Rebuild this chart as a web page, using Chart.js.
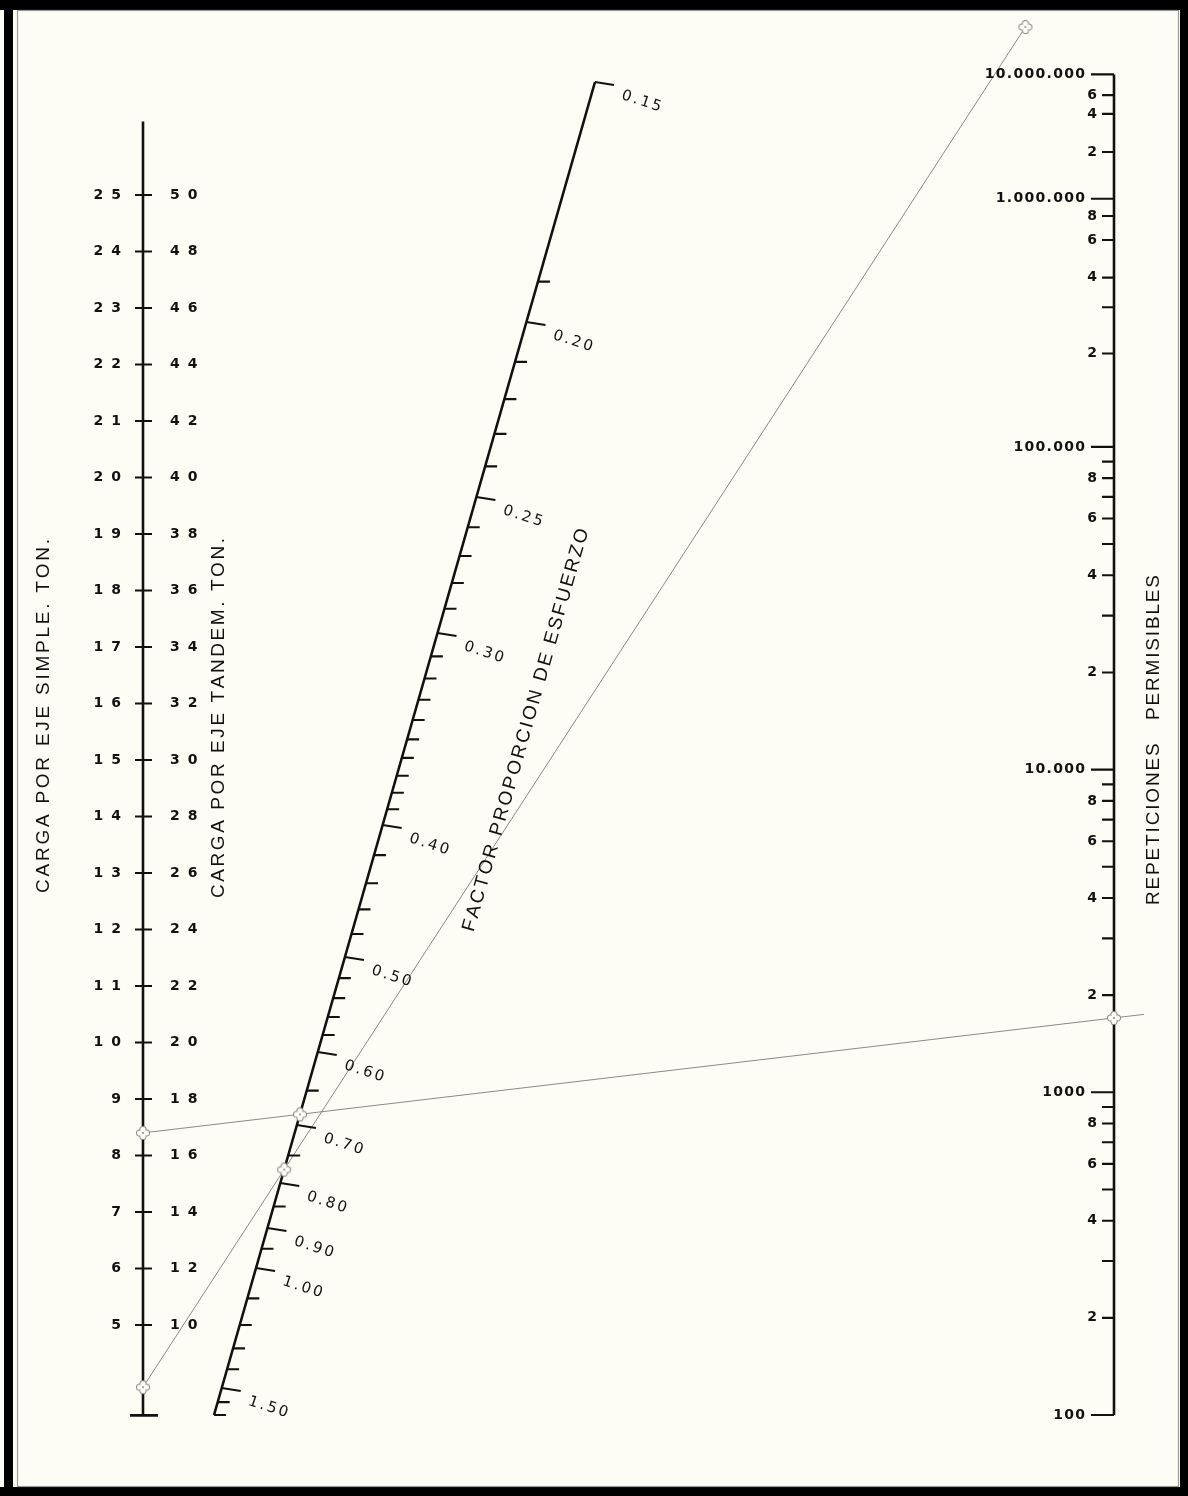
<!DOCTYPE html>
<html>
<head>
<meta charset="utf-8">
<title>Nomograma - repeticiones permisibles</title>
<script src="https://cdn.jsdelivr.net/npm/chart.js@4.4.1/dist/chart.umd.min.js"></script>
<style>
  html, body { margin: 0; padding: 0; background: #fefdf5; }
  #wrap { width: 1188px; height: 1496px; }
</style>
</head>
<body>
<div id="wrap"><canvas id="nomo" width="1188" height="1496"></canvas></div>
<script>
const singleAxleLoads = [5, 6, 7, 8, 9, 10, 11, 12, 13, 14, 15, 16, 17, 18, 19, 20, 21, 22, 23, 24, 25];
const tandemAxleLoads = [10, 12, 14, 16, 18, 20, 22, 24, 26, 28, 30, 32, 34, 36, 38, 40, 42, 44, 46, 48, 50];

const stressRatioTicks = [
  0.15, 0.19, 0.20, 0.21, 0.22, 0.23, 0.24, 0.25, 0.26, 0.27, 0.28, 0.29,
  0.30, 0.31, 0.32, 0.33, 0.34, 0.35, 0.36, 0.37, 0.38, 0.39,
  0.40, 0.42, 0.44, 0.46, 0.48, 0.50, 0.52, 0.54, 0.56, 0.58,
  0.60, 0.65, 0.70, 0.75, 0.80, 0.85, 0.90, 0.95, 1.00,
  1.10, 1.20, 1.30, 1.40, 1.50, 1.60, 1.70
];
const stressRatioLabels = ['0.15', '0.20', '0.25', '0.30', '0.40', '0.50', '0.60', '0.70', '0.80', '0.90', '1.00', '1.50'];

const repetitionDecades = [100, 1000, 10000, 100000, 1000000, 10000000];
const repetitionDecadeLabels = ['100', '1000', '10.000', '100.000', '1.000.000', '10.000.000'];
const repetitionMinorTicks = [
  200, 300, 400, 500, 600, 700, 800, 900,
  2000, 3000, 4000, 5000, 6000, 7000, 8000, 9000,
  20000, 30000, 40000, 50000, 60000, 70000, 80000, 90000,
  200000, 300000, 400000, 600000, 800000,
  2000000, 4000000, 6000000
];

// worked example drawn on the chart
const exampleLoads = [8.4, 3.9];       // single axle, ton
const exampleStressRatio = 0.775;
const exampleRepetitions = 1700;

// ---- layout of the three scales (drawing units = px of the sheet) ----
const W = 1188, H = 1496;
const loadAxis = { x: 143, y25: 195, pxPerTon: 56.5, min: 3.4, max: 26.3 };
const srAxis = { x0: 214, y0: 1415, x1: 595, y1: 82 };
// stress ratio -> fraction along the slanted scale (0 = bottom end)
const srKnots = [
  [1.70, 0], [1.50, 0.0203], [1.00, 0.1103], [0.90, 0.1403], [0.80, 0.1740],
  [0.70, 0.2176], [0.60, 0.2723], [0.50, 0.3436], [0.40, 0.4426], [0.30, 0.5866],
  [0.25, 0.6887], [0.20, 0.8200], [0.15, 1]
];
const repAxis = { x: 1114, y100: 1415, decadePx: 322.7 };

const INK = '#111';
const GUIDE = '#8a8a8a';

function loadPt(v) {
  return { x: loadAxis.x, y: loadAxis.y25 + (25 - v) * loadAxis.pxPerTon };
}

// the stress ratio scale is close to 1/sqrt(SR); interpolate between the printed values
function srFrac(v) {
  const u = 1 / Math.sqrt(v);
  for (let i = 0; i < srKnots.length - 1; i++) {
    const ua = 1 / Math.sqrt(srKnots[i][0]), ub = 1 / Math.sqrt(srKnots[i + 1][0]);
    if (u <= ub || i === srKnots.length - 2) {
      return srKnots[i][1] + (u - ua) / (ub - ua) * (srKnots[i + 1][1] - srKnots[i][1]);
    }
  }
}
function srPt(v) {
  const t = srFrac(v);
  return { x: srAxis.x0 + t * (srAxis.x1 - srAxis.x0), y: srAxis.y0 + t * (srAxis.y1 - srAxis.y0) };
}

// repetitions: logarithmic up to 100.000, then compressed (N^-0.3) above
function repPt(n) {
  let u = Math.log10(n);
  if (n > 1e5) u = 5 + (Math.pow(1e5, -0.3) - Math.pow(n, -0.3)) * 48.75;
  return { x: repAxis.x, y: repAxis.y100 - (u - 2) * repAxis.decadePx };
}

function lerp(a, b, t) { return { x: a.x + (b.x - a.x) * t, y: a.y + (b.y - a.y) * t }; }
function cross(p1, p2, p3, p4) {
  const d = (p1.x - p2.x) * (p3.y - p4.y) - (p1.y - p2.y) * (p3.x - p4.x);
  const a = p1.x * p2.y - p1.y * p2.x, b = p3.x * p4.y - p3.y * p4.x;
  return { x: (a * (p3.x - p4.x) - (p1.x - p2.x) * b) / d, y: (a * (p3.y - p4.y) - (p1.y - p2.y) * b) / d };
}
const GAP = { x: 0, y: null };

// ---- build the segments ----
const axisLines = [];
axisLines.push(loadPt(loadAxis.min), loadPt(loadAxis.max), GAP);
const lb = loadPt(loadAxis.min);
axisLines.push({ x: lb.x - 13, y: lb.y }, { x: lb.x + 15, y: lb.y }, GAP);
axisLines.push(srPt(1.70), srPt(0.15), GAP);
axisLines.push(repPt(100), repPt(1e7), GAP);

const tickMarks = [];
singleAxleLoads.forEach(v => {
  const p = loadPt(v);
  tickMarks.push({ x: p.x - 8, y: p.y }, { x: p.x + 9, y: p.y }, GAP);
});
stressRatioTicks.forEach(v => {
  const p = srPt(v);
  const major = stressRatioLabels.includes(v.toFixed(2));
  tickMarks.push(p, major ? { x: p.x + 19, y: p.y + 3 } : { x: p.x + 12, y: p.y }, GAP);
});
repetitionDecades.forEach(n => {
  const p = repPt(n);
  tickMarks.push({ x: p.x - 23, y: p.y }, p, GAP);
});
repetitionMinorTicks.forEach(n => {
  const p = repPt(n);
  tickMarks.push({ x: p.x - 12, y: p.y }, p, GAP);
});

// example lines
const aLeft = loadPt(exampleLoads[0]);
const aRight = repPt(exampleRepetitions);
const aMid = cross(aLeft, aRight, srPt(1.7), srPt(0.15));
const bLeft = loadPt(exampleLoads[1]);
const bMid = srPt(exampleStressRatio);
const bEnd = lerp(bLeft, bMid, (bLeft.y - 27) / (bLeft.y - bMid.y));
const guideLines = [aLeft, lerp(aLeft, aRight, 1.031), GAP, bLeft, bEnd];
const guideMarks = [aLeft, aMid, aRight, bLeft, bMid, bEnd];

function makeMarker() {
  const c = document.createElement('canvas');
  c.width = 16; c.height = 16;
  const g = c.getContext('2d');
  const lobes = [[8, 4.6], [8, 11.4], [4.6, 8], [11.4, 8]];
  g.fillStyle = GUIDE;
  lobes.forEach(([x, y]) => { g.beginPath(); g.arc(x, y, 3.6, 0, Math.PI * 2); g.fill(); });
  g.fillStyle = '#fefdf5';
  lobes.forEach(([x, y]) => { g.beginPath(); g.arc(x, y, 2.6, 0, Math.PI * 2); g.fill(); });
  return c;
}

// ---- text helpers ----
function drawSpaced(ctx, text, x, y, spacing, align) {
  const chars = [...text];
  const widths = chars.map(c => ctx.measureText(c).width);
  const total = widths.reduce((a, b) => a + b, 0) + spacing * (chars.length - 1);
  let cx = align === 'right' ? x - total : align === 'center' ? x - total / 2 : x;
  ctx.textAlign = 'left';
  chars.forEach((c, i) => { ctx.fillText(c, cx, y); cx += widths[i] + spacing; });
}
function drawFitted(ctx, text, cx, cy, angle, length) {
  const chars = [...text];
  const sum = chars.reduce((a, c) => a + ctx.measureText(c).width, 0);
  ctx.save();
  ctx.translate(cx, cy);
  ctx.rotate(angle);
  drawSpaced(ctx, text, 0, 0, (length - sum) / (chars.length - 1), 'center');
  ctx.restore();
}

const sheetPlugin = {
  id: 'sheet',
  beforeDraw(chart) {
    const ctx = chart.ctx;
    ctx.save();
    ctx.fillStyle = '#fefdf5';
    ctx.fillRect(0, 0, W, H);
    ctx.fillStyle = '#000';
    ctx.fillRect(0, 0, W, 10);
    ctx.fillRect(4, 0, 9, H);
    ctx.fillRect(1180, 0, 8, H);
    ctx.fillRect(0, 1487, W, 9);
    ctx.strokeStyle = '#9a9a9a';
    ctx.lineWidth = 1.2;
    ctx.strokeRect(17.5, 10.5, 1161, 1476);
    ctx.restore();
  },
  afterDatasetsDraw(chart) {
    const { ctx, scales: { x, y } } = chart;
    const px = p => ({ x: x.getPixelForValue(p.x), y: y.getPixelForValue(p.y) });
    ctx.save();
    ctx.fillStyle = INK;
    ctx.textBaseline = 'middle';

    // load scale labels
    ctx.font = 'bold 14px "DejaVu Sans"';
    singleAxleLoads.forEach(v => {
      const p = px(loadPt(v));
      drawSpaced(ctx, String(v), p.x - 22, p.y, 8, 'right');
    });
    tandemAxleLoads.forEach((v, i) => {
      const p = px(loadPt(singleAxleLoads[i]));
      drawSpaced(ctx, String(v), p.x + 27, p.y, 8, 'left');
    });

    // stress ratio labels
    ctx.font = '15px "DejaVu Sans"';
    stressRatioLabels.forEach(s => {
      const p = px(srPt(parseFloat(s)));
      ctx.save();
      ctx.translate(p.x + 27, p.y + 13);
      ctx.rotate(18 * Math.PI / 180);
      drawSpaced(ctx, s, 0, 0, 2.5, 'left');
      ctx.restore();
    });

    // repetition labels
    ctx.font = 'bold 14px "DejaVu Sans"';
    repetitionDecades.forEach((n, i) => {
      const p = px(repPt(n));
      drawSpaced(ctx, repetitionDecadeLabels[i], p.x - 29, p.y, 1.3, 'right');
    });
    repetitionMinorTicks.forEach(n => {
      const m = Math.round(n / Math.pow(10, Math.floor(Math.log10(n))));
      if (m % 2) return;
      const p = px(repPt(n));
      drawSpaced(ctx, String(m), p.x - 17, p.y, 0, 'right');
    });

    // scale titles
    ctx.font = '19px "Liberation Sans"';
    drawFitted(ctx, 'CARGA POR EJE SIMPLE. TON.', 44, 716, -Math.PI / 2, 354);
    drawFitted(ctx, 'CARGA POR EJE TANDEM. TON.', 219, 718, -Math.PI / 2, 360);
    drawFitted(ctx, 'REPETICIONES   PERMISIBLES', 1154, 740, -Math.PI / 2, 330);
    const ang = Math.atan2(srAxis.y1 - srAxis.y0, srAxis.x1 - srAxis.x0);
    drawFitted(ctx, 'FACTOR PROPORCION DE ESFUERZO', 526, 730, ang, 418);
    ctx.restore();
  }
};

new Chart(document.getElementById('nomo'), {
  type: 'scatter',
  data: {
    datasets: [
      { data: axisLines, showLine: true, borderColor: INK, borderWidth: 2.6, pointRadius: 0, order: 1 },
      { data: tickMarks, showLine: true, borderColor: INK, borderWidth: 2.1, pointRadius: 0, order: 2 },
      { data: guideLines, showLine: true, borderColor: GUIDE, borderWidth: 1, pointRadius: 0, order: 3 },
      { data: guideMarks, showLine: false, pointStyle: makeMarker(), pointRadius: 8, order: 0 }
    ]
  },
  options: {
    responsive: false,
    animation: false,
    events: [],
    layout: { padding: 0, autoPadding: false },
    elements: { line: { tension: 0, borderCapStyle: 'butt' } },
    plugins: { legend: { display: false }, tooltip: { enabled: false } },
    scales: {
      x: { type: 'linear', min: 0, max: W, display: false },
      y: { type: 'linear', min: 0, max: H, reverse: true, display: false }
    }
  },
  plugins: [sheetPlugin]
});
</script>
</body>
</html>
